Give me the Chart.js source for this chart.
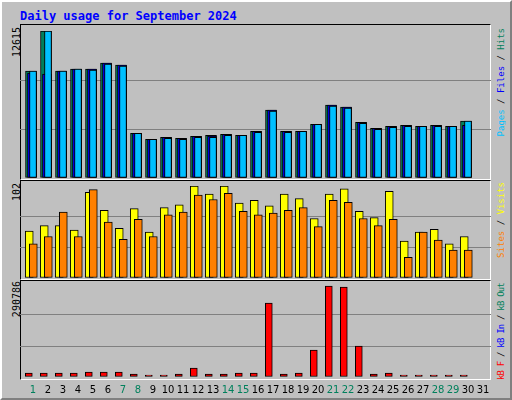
<!DOCTYPE html>
<html>
<head>
<meta charset="utf-8">
<script src="https://cdn.jsdelivr.net/npm/chart.js@4/dist/chart.umd.min.js"></script>
<style>
  body { margin: 0; background: #c0c0c0; }
  #wrap { position: relative; width: 512px; height: 400px; background: #c0c0c0; box-sizing: border-box;
          border-top: 2px solid #fff; border-left: 2px solid #fff; border-right: 2px solid #808080; border-bottom: 2px solid #808080; overflow: hidden; }
  .abs { position: absolute; }
  .panel { position: absolute; left: 18px; width: 471px; box-sizing: border-box;
           border-top: 1px solid #000; border-left: 1px solid #000; border-right: 1px solid #fff; border-bottom: 1px solid #fff; }
  .vt { position: absolute; writing-mode: vertical-rl; transform: rotate(180deg);
        font: 10px "DejaVu Sans Mono", monospace; white-space: nowrap; }
  .leg { font-size: 9px; }
  #title { left: 18px; top: 7px; font: bold 12px "DejaVu Sans Mono", monospace; color: #0000ff; }
  canvas { position: absolute; }
</style>
</head>
<body>
<div id="wrap">
  <div id="title" class="abs">Daily usage for September 2024</div>
  <div class="panel" style="top:22px;height:156px"></div>
  <div class="panel" style="top:178px;height:100px"></div>
  <div class="panel" style="top:278px;height:100px"></div>
  <div class="vt" style="left:9px;top:25px;color:#000">12615</div>
  <div class="vt" style="left:9px;top:181px;color:#000">102</div>
  <div class="vt" style="left:9px;top:279px;color:#000">290786</div>
  <div class="vt leg" style="left:494px;top:26px"><span style="color:#00c0ff">Pages</span> / <span style="color:#0000ff">Files</span> / <span style="color:#00805c">Hits</span></div>
  <div class="vt leg" style="left:494px;top:180px"><span style="color:#ff8000">Sites</span> / <span style="color:#ffff00">Visits</span></div>
  <div class="vt leg" style="left:494px;top:281px;letter-spacing:-0.8px"><span style="color:#ff0000">kB F</span> / <span style="color:#0000ff">kB In</span> / <span style="color:#00805c">kB Out</span></div>
  <canvas id="c1" style="left:18px;top:29px;width:471px;height:147px"></canvas>
  <canvas id="c2" style="left:18px;top:184px;width:471px;height:92px"></canvas>
  <canvas id="c3" style="left:18px;top:282px;width:471px;height:93px"></canvas>
  <canvas id="c4" style="left:18px;top:379px;width:471px;height:18px"></canvas>
</div>
<script>
var days = [];
for (var i = 1; i <= 31; i++) days.push(i);
var weekendDays = [1, 7, 8, 14, 15, 21, 22, 28, 29];

var hits  = [9175, 12615, 9175, 9346, 9346, 9862, 9690, 3842, 3326, 3498, 3412, 3584, 3670, 3756, 3670, 4014, 5820, 4014, 4014, 4616, 6250, 6078, 4788, 4272, 4444, 4530, 4444, 4530, 4444, 4874];
var files = [9002, 8916, 9175, 9346, 9346, 9862, 9690, 3842, 3326, 3498, 3412, 3584, 3600, 3756, 3670, 4014, 5820, 4014, 4014, 4616, 6250, 6078, 4788, 4272, 4444, 4530, 4444, 4530, 4444, 4530];
var pages = [9175, 12615, 9175, 9346, 9260, 9776, 9604, 3842, 3326, 3412, 3326, 3498, 3498, 3670, 3670, 3928, 5734, 3928, 4014, 4616, 6164, 5992, 4702, 4186, 4358, 4444, 4444, 4444, 4444, 4874];
var visits = [52, 58, 58, 53, 95, 75, 55, 77, 51, 78, 81, 102, 93, 102, 83, 86, 80, 93, 88, 66, 93, 99, 74, 67, 96, 41, 51, 54, 38, 46];
var sites  = [38, 46, 73, 46, 98, 62, 43, 65, 46, 70, 73, 92, 87, 94, 74, 70, 72, 75, 78, 57, 86, 84, 66, 58, 65, 23, 51, 42, 31, 31];
var kbF = [12500, 12500, 12500, 12500, 15600, 15600, 15600, 9400, 6300, 6300, 9400, 28000, 9400, 9400, 12500, 12500, 231000, 9400, 12500, 84000, 284000, 281000, 97000, 9400, 12500, 6300, 6300, 6300, 6300, 6300];

var xMin = 0.133, xMax = 31.533;

function pts(values, shift) {
    return values.map(function (v, i) { return { x: days[i] + shift, y: v }; });
}

// lower order = drawn on top
function ds(values, shift, color, width, order) {
    return {
        data: pts(values, shift),
        backgroundColor: color,
        borderColor: '#000',
        borderWidth: 1,
        borderSkipped: false,
        barThickness: width,
        grouped: false,
        order: order
    };
}

function panel(id, datasets, max) {
    new Chart(document.getElementById(id), {
        type: 'bar',
        data: { datasets: datasets },
        options: {
            animation: false,
            responsive: false,
            maintainAspectRatio: false,
            layout: { padding: 0 },
            plugins: { legend: { display: false }, tooltip: { enabled: false } },
            scales: {
                x: { type: 'linear', min: xMin, max: xMax, offset: false, display: false },
                y: {
                    min: 0, max: max,
                    ticks: { display: false, stepSize: max / 3 },
                    border: { display: false },
                    grid: {
                        drawTicks: false, lineWidth: 1,
                        color: function (c) { return (c.tick.value > 0 && c.tick.value < max - 1) ? '#808080' : 'rgba(0,0,0,0)'; }
                    }
                }
            }
        }
    });
}

function sizeCanvas(id) {
    var c = document.getElementById(id);
    c.width = parseInt(c.style.width);
    c.height = parseInt(c.style.height);
}
['c1', 'c2', 'c3', 'c4'].forEach(sizeCanvas);

panel('c1', [
    ds(hits, -0.133, '#00805c', 11, 3),
    ds(files, -0.067, '#0000ff', 9, 2),
    ds(pages, 0, '#00c0ff', 7, 1)
], 12615);

panel('c2', [
    ds(visits, -0.25, '#ffff00', 8, 2),
    ds(sites, 0.02, '#ff8000', 8, 1)
], 102);

panel('c3', [
    ds(kbF, -0.28, '#ff0000', 7, 1)
], 290786);

// day labels
var ctx = document.getElementById('c4').getContext('2d');
ctx.font = '10px "DejaVu Sans", sans-serif';
ctx.textAlign = 'center';
ctx.textBaseline = 'middle';
days.forEach(function (d) {
    var px = (d - xMin) * 471 / (xMax - xMin);
    ctx.fillStyle = weekendDays.indexOf(d) >= 0 ? '#00805c' : '#000';
    ctx.fillText(String(d), px, 9);
});
</script>
</body>
</html>
